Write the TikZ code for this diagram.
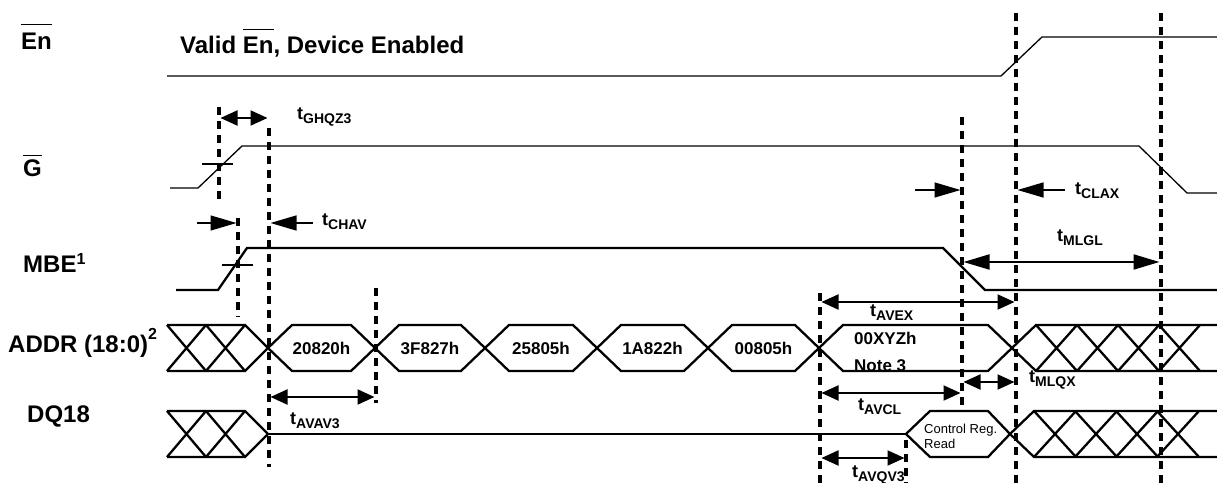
\documentclass[tikz,border=0pt]{standalone}
\usepackage{fontspec}
\setmainfont{Liberation Sans}
\usetikzlibrary{arrows.meta, calc}

\tikzset{
  >={Triangle[length=17bp,width=15bp]},
  long tips/.style={>={Triangle[length=26bp,width=15bp]}},
  thin sig/.style={line width=1.3bp},
  sig/.style={line width=2.3bp},
  guide/.style={line width=4.5bp, dash pattern=on 8bp off 6bp},
  dim/.style={line width=2bp, <->, shorten <=1.5bp, shorten >=1.5bp},
  half/.style={line width=1.3bp, ->, long tips, shorten >=1.5bp},
  lbl/.style={inner sep=0pt, anchor=base west, font=\fontsize{24bp}{26bp}\selectfont\bfseries},
  tlbl/.style={inner sep=0pt, anchor=base west, font=\fontsize{18bp}{20bp}\selectfont\bfseries},
  val/.style={inner sep=0pt, font=\fontsize{17bp}{19bp}\selectfont\bfseries},
  note/.style={inner sep=0pt, anchor=base west, font=\fontsize{13bp}{15bp}\selectfont},
}
\newcommand{\tsub}[1]{t\raisebox{-4bp}{\fontsize{14bp}{16bp}\selectfont #1}}
\newcommand{\barred}[2]{\vbox{\hrule height 1.6bp\kern #2\hbox{#1}}}

\begin{document}
\begin{tikzpicture}[x=1bp, y=-1bp]
\useasboundingbox (0,0) rectangle (1217,483);

% signal names
\node[lbl] (lEn) at (21,50) {\barred{En}{8bp}};
\node[lbl] (lValid) at (180,54) {Valid \barred{En}{7bp}, Device Enabled};
\node[lbl] (lG) at (23,177) {\barred{G}{4bp}};
\node[lbl] (lMBE) at (23,273) {MBE\raisebox{8bp}{\fontsize{16bp}{16bp}\selectfont 1}};
\node[lbl] (lADDR) at (8,353) {ADDR (18:0)\raisebox{13bp}{\fontsize{16bp}{16bp}\selectfont 2}};
\node[lbl] (lDQ) at (27,422) {DQ18};

% dashed guides
\foreach \n/\x/\ya/\yb in {A/219/107/203, B/269/128/467, C/238/218/317, D/376/288/403,
    E/820/293/483, F/962/117/412, G/1016/13/483, H/1161/13/483, I/906/440/483}{
  \coordinate (g\n) at (\x,0);
  \draw[guide] (\x,\ya) -- (\x,\yb);
}

% En, G, MBE
\draw[thin sig] (167,76) -- (1001,76) -- (1042,37) -- (1217,37);
\draw[thin sig] (170,188) -- (198,188) -- (242,146) -- (1139,146) -- (1187,193) -- (1217,193);
\draw[thin sig] (202,164) -- (233,164);
\draw[sig] (176,290) -- (218,290) -- (247,248) -- (943,248) -- (985,290) -- (1217,290);
\draw[thin sig] (222,265) -- (253,265);

% ADDR bus
\draw[sig] (167,325) -- (245,325) -- (268,348) -- (245,371) -- (167,371);
\foreach \x in {167,206} \draw[sig] (\x,325) -- (\x+39,371) (\x,371) -- (\x+39,325);
\foreach \a/\b/\txt in {268/375/20820h, 375/485/3F827h, 485/597/25805h, 597/708/1A822h, 708/819/00805h}{
  \draw[sig] (\a,348) -- (\a+24,325) -- (\b-24,325) -- (\b,348) -- (\b-24,371) -- (\a+24,371) -- cycle;
  \node[val] (v\txt) at ({(\a+\b)/2},348) {\txt};
}
\draw[sig] (819,348) -- (843,325) -- (988,325) -- (1012,348) -- (988,371) -- (843,371) -- cycle;
\node[val, anchor=base west] (vXYZ) at (854,345) {00XYZh};
\node[val, anchor=base west] (vNote) at (854,372) {Note 3};
\draw[sig] (1012,348) -- (1036,325) -- (1217,325) (1012,348) -- (1036,371) -- (1217,371);
\foreach \x in {1036,1077,1118,1159} \draw[sig] (\x,325) -- (\x+41,371) (\x,371) -- (\x+41,325);

% DQ18 bus
\draw[sig] (167,411) -- (245,411) -- (268,434) -- (245,457) -- (167,457);
\foreach \x in {167,206} \draw[sig] (\x,411) -- (\x+39,457) (\x,457) -- (\x+39,411);
\draw[sig] (268,434) -- (906,434);
\draw[sig] (906,434) -- (930,411) -- (988,411) -- (1010,434) -- (988,457) -- (930,457) -- cycle;
\node[note] (cReg) at (924,433) {Control Reg.};
\node[note] (cRead) at (924,448) {Read};
\draw[sig] (1010,434) -- (1034,411) -- (1217,411) (1010,434) -- (1034,457) -- (1217,457);
\foreach \x in {1034,1075,1116,1157} \draw[sig] (\x,411) -- (\x+42,457) (\x,457) -- (\x+42,411);

% timing arrows
\coordinate (yGHQZ) at (0,118);
\coordinate (yCLAX) at (0,190);
\coordinate (yCHAV) at (0,223);
\coordinate (yMLGL) at (0,262);
\coordinate (yAVEX) at (0,302);
\coordinate (yMLQX) at (0,382);
\coordinate (yAVCL) at (0,393);
\coordinate (yAVAV) at (0,397);
\coordinate (yAVQV) at (0,458);

\draw[dim] (gA |- yGHQZ) -- (gB |- yGHQZ);
\node[tlbl] (tGHQZ) at (297,120) {\tsub{GHQZ3}};

\draw[half] ($(gC |- yCHAV)+(-41,0)$) -- (gC |- yCHAV);
\draw[half] ($(gB |- yCHAV)+(44,0)$) -- (gB |- yCHAV);
\node[tlbl] (tCHAV) at (322,226) {\tsub{CHAV}};

\draw[dim] (gB |- yAVAV) -- (gD |- yAVAV);
\node[tlbl] (tAVAV) at (290,424) {\tsub{AVAV3}};

\draw[dim] (gE |- yAVEX) -- (gG |- yAVEX);
\node[tlbl] (tAVEX) at (870,317) {\tsub{AVEX}};

\draw[dim] (gE |- yAVCL) -- (gF |- yAVCL);
\node[tlbl] (tAVCL) at (858,410) {\tsub{AVCL}};

\draw[dim] (gE |- yAVQV) -- (gI |- yAVQV);
\node[tlbl] (tAVQV) at (852,477) {\tsub{AVQV3}};

\draw[dim] (gF |- yMLQX) -- (gG |- yMLQX);
\node[tlbl] (tMLQX) at (1029,383) {\tsub{MLQX}};

\draw[dim, long tips] (gF |- yMLGL) -- (gH |- yMLGL);
\node[tlbl] (tMLGL) at (1057,242) {\tsub{MLGL}};

\draw[half] ($(gF |- yCLAX)+(-47,0)$) -- (gF |- yCLAX);
\draw[half] ($(gG |- yCLAX)+(49,0)$) -- (gG |- yCLAX);
\node[tlbl] (tCLAX) at (1075,195) {\tsub{CLAX}};
\end{tikzpicture}
\end{document}
